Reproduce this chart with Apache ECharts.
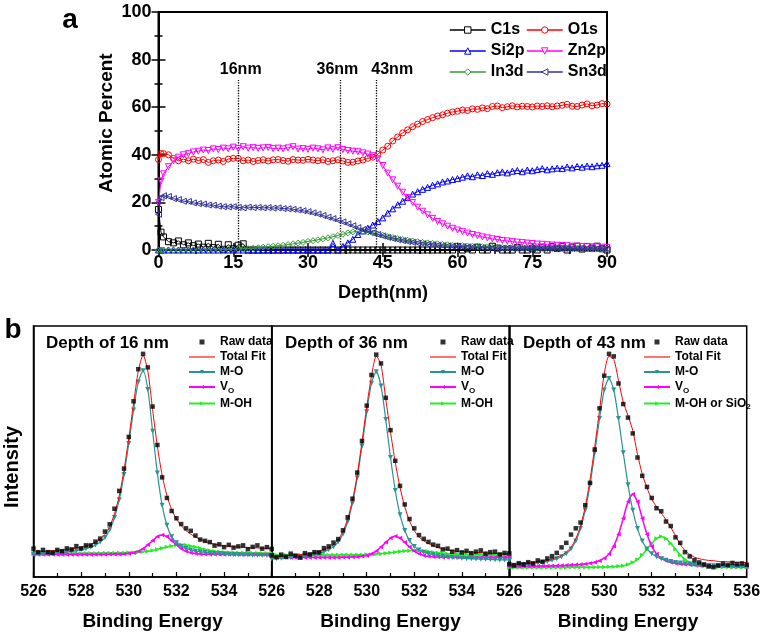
<!DOCTYPE html>
<html><head><meta charset="utf-8">
<script src="https://cdn.jsdelivr.net/npm/echarts@6/dist/echarts.min.js"></script>
<style>html,body{margin:0;padding:0;background:#fff}#c{width:766px;height:637px}</style>
</head><body><div id="c"></div>
<script>
// ---------- Panel a: depth profile ----------
const depth = [0,0.5,1,2,3,4,5,6,7,8,9,10,11,12,13,14,15,16,17,18,19,20,21,22,23,24,25,26,27,28,29,30,31,32,33,34,35,36,37,38,39,40,41,42,43,44,45,46,47,48,49,50,51,52,53,54,55,56,57,58,59,60,61,62,63,64,65,66,67,68,69,70,71,72,73,74,75,76,77,78,79,80,81,82,83,84,85,86,87,88,89,90];
const C1s = [17,7.5, 5.5,3.5,3.0,3.8,2.2,3.0,1.8,2.5,1.2,2.8, 1.0,2.4,0.3,2.2,0.5,2.0,2.6,0,0,0, 0,0,0,0,0,0,0,0,0,0, 0,0,0,0,0,0,0,0,0,0, 0,0,0,0,0,0,0,0,0,0, 0,0,0,0,0,0,0,0,0,1.5, 0,0.5,0,1.2,0,0,1.6,0.8,0,0, 0,1.0,0,0,0.5,0,1.2,0,1.4,0.6, 1.5,0,1.2,1.6,0.4,1.5,0.8,1.6,0.5,0];
const O1s = [38,40.5, 40.5,40,38.5,37.5,38.2,37.5,38.2,37.6,38,36.8, 37.5,37.8,37.2,38.2,38.5,38.5,37.5,37.8,37.2,37.6, 37.9,37.4,37.9,38,37.6,37.3,38,37.8,37.7,38.1, 37.8,37.5,37.9,37.2,37.5,37.9,37.4,36.8,36.9,37.4, 37.8,38.5,39.0,40.2,42,43.6,45.8,47.5,49.2,50.5, 51.8,52.9,54,54.8,55.6,56.3,56.8,57.5,58,58.3, 58.8,58.6,59.3,59.1,59.7,59.4,60.3,60.5,59.8,60.2, 60.6,60.1,60.4,60.3,60.1,60.5,60.3,60.6,60.2,60.5, 60.8,61.2,60.4,60.3,60.9,61.4,60.6,60.9,61.5,61.3];
const Si2p = [0,0, 0,0,0,0,0,0,0,0,0,0, 0,0,0,0,0,0,0,0,0,0, 0,0,0,0,0,0,0,0,0,0, 0,0,0,0,2.8,0,1.5,3,4.5,6.5, 8,9.2,10.5,12,13.5,15.5,17.3,19,20.5,22, 23.5,24.5,25.5,26.3,27.2,27.8,28.6,29,29.6,30, 30.6,31.2,30.8,31.6,31.3,32.1,31.8,32.5,32.8,32.4, 33.1,33.4,32.9,33.6,33.3,33.8,34.2,33.7,34.1,34.4, 34.2,34.9,34.5,35.1,34.8,35.3,35.0,35.4,35.6,36.3];
const Zn2p = [20,29, 32,35,37.5,39,40,40.5,41.2,41.5,42,41.8, 42.5,42.2,42.8,42.5,43.2,42.6,43.4,42.8,43,42.7, 42.9,43.1,42.6,42.8,42.5,42.9,43.4,42.4,42.6,42.3, 42.8,42.5,42.1,42.9,42.3,43.0,42.2,41.8,41.5,41.3, 40.8,40.3,39.6,38.3,35.5,32.3,29.5,26.8,24.3,22, 20,18,16.3,14.8,13.3,12,11,10,9.1,8.4, 7.7,7.1,6.5,6.0,5.5,5.1,4.7,4.4,4.0,3.8, 3.5,3.3,3.1,2.9,2.7,2.5,2.4,2.2,2.1,2.0, 1.9,1.8,1.6,1.6,1.5,1.4,1.3,1.3,1.2,1.1];
const In3d = [0,0, 0,0,0,0,0,0,0,0,0.1,0.1, 0.1,0.1,0.2,0.2,0.3,0.4,0.5,0.6,0.8,1.0, 1.2,1.4,1.6,1.8,2.0,2.3,2.6,2.9,3.2,3.6, 3.9,4.3,4.7,5.1,5.6,6.1,6.6,7.2,7.6,7.9, 7.8,7.5,7.1,6.7,6.2,5.6,5.2,4.8,4.4,4.1, 3.8,3.5,3.2,3.0,2.8,2.6,2.4,2.2,2.0,1.9, 1.8,1.7,1.6,1.5,1.4,1.3,1.2,1.1,1.0,1.0, 0.9,0.9,0.8,0.8,0.7,0.7,0.6,0.6,0.6,0.5, 0.5,0.5,0.5,0.5,0.4,0.4,0.4,0.4,0.4,0.4];
const Sn3d = [15,22, 22.8,22.5,21.6,21.2,20.5,20.4,19.8,19.5,19.3,18.9, 18.8,18.4,18.2,18.1,18.2,17.9,17.7,18.0,17.8,17.9, 17.7,17.8,17.6,17.7,17.4,17.3,17.1,16.8,16.5,16.1, 15.6,15.1,14.5,13.8,13.2,12.5,11.8,11.0,10.2,9.4, 8.6,7.9,7.2,6.5,5.9,5.3,4.8,4.3,3.9,3.5, 3.2,2.9,2.6,2.4,2.2,2.0,1.8,1.7,1.6,1.5, 1.4,1.3,1.2,1.1,1.0,0.9,0.9,0.8,0.8,0.8, 0.7,0.7,0.7,0.7,0.7,0.7,0.7,0.7,0.7,0.7, 0.6,0.6,0.6,0.5,0.5,0.5,0.5,0.5,0.5,0.5];
const guideDepths = [16.1, 36.5, 43.6];
const guideTop = 71.4;
const guideLabels = ['16nm', '36nm', '43nm'];
const guideLabelDepths = [16.5, 35.9, 46.9];
const guideLabelY = 76;
const xTicksA = [0, 90, 15];
const yTicksA = [0, 100, 20];

// ---------- Panel b: O1s spectra ----------
const energy = [526,526.2,526.4,526.6,526.8,527,527.2,527.4,527.6,527.8,528,528.2,528.4,528.6,528.8,529,529.2,529.4,529.6,529.8,530,530.2,530.4,530.6,530.8,531,531.2,531.4,531.6,531.8,532,532.2,532.4,532.6,532.8,533,533.2,533.4,533.6,533.8,534,534.2,534.4,534.6,534.8,535,535.2,535.4,535.6,535.8,536];
// depth 16 nm
const raw16 = [11.3,9.9,10.8,9.9,9.7,10.8,10.3,11.4,11.0,12.3, 11.4,12.6,12.6,14.1,15.3,18.1,21.0,27.2,34.3,43.2, 55.8,70.0,82.8,88.9,83.5,67.9,52.6,39.7,31.5,26.3, 23.4,21.1,19.4,18.4,16.5,14.9,14.4,13.9,12.5,13.0, 11.9,12.8,11.7,12.2,12.6,11.1,12.0,12.6,11.3,11.9,11.2];
const fit16 = [10.1,10.2,10.2,10.4,10.5,10.7,10.8,11.0,11.3,11.5, 11.9,12.4,13.0,13.8,15.1,17.0,20.2,25.2,32.4,42.6, 55.3,69.0,82.0,88.4,82.0,66.7,52.1,40.5,32.5,26.8, 23.1,20.5,18.5,17.1,15.9,15.0,14.2,13.5,13.1,12.7, 12.4,12.2,12.1,11.9,11.8,11.7,11.6,11.6,11.4,11.4,11.4];
const mo16 = [9.1,9.2,9.2,9.4,9.5,9.7,9.8,10.0,10.3,10.5, 10.9,11.3,11.9,12.7,13.9,15.7,18.8,23.7,30.8,40.8, 53.2,66.5,77.7,82.2,74.7,58.1,41.4,28.6,20.6,16.0, 13.6,12.3,11.4,10.8,10.3,10.1,9.8,9.5,9.4,9.3, 9.2,9.05,8.95,8.9,8.8,8.75,8.7,8.65,8.6,8.6,8.6];
const vo16 = [9.0,9.0,9.0,9.0,9.0,9.0,9.0,9.0,9.0,9.0, 9.0,9.0,9.0,9.0,9.0,9.0,9.1,9.1,9.1,9.2, 9.4,9.7,10.3,11.3,12.8,14.5,16.1,16.7,16.1,14.5, 12.8,11.3,10.3,9.7,9.4,9.2,9.1,9.1,9.1,9.0, 9.0,9.0,9.0,9.0,9.0,9.0,9.0,9.0,9.0,9.0,9.0];
const moh16 = [9.4,9.4,9.4,9.4,9.4,9.4,9.4,9.4,9.4,9.4, 9.4,9.5,9.5,9.5,9.5,9.6,9.6,9.6,9.7,9.7, 9.8,9.8,9.9,10.1,10.3,10.6,11.0,11.5,12.0,12.4, 12.7,12.8,12.7,12.4,12.0,11.5,11.0,10.6,10.3,10.1, 9.9,9.8,9.8,9.7,9.7,9.6,9.6,9.6,9.5,9.5,9.5];
// depth 36 nm
const raw36 = [8.6,7.9,8.9,8.1,9.3,8.5,7.7,9.5,9.0,9.9, 9.8,11.5,12.2,13.7,15.1,18.6,23.8,31.2,41.6,54.2, 68.3,80.5,88.6,85.1,71.4,58.5,46.3,36.3,28.9,23.1, 19.4,16.7,15.2,14.0,12.9,12.4,11.0,11.3,10.1,10.7, 9.8,10.4,9.5,10.1,10.6,9.3,9.9,10.1,9.0,9.6,9.4];
const fit36 = [8.1,8.2,8.3,8.5,8.6,8.8,8.9,9.2,9.4,9.8, 10.3,10.9,11.7,12.9,14.9,18.2,23.2,30.6,40.9,53.8, 67.9,80.0,88.0,84.5,70.9,57.8,45.7,35.7,28.0,22.3, 18.5,16.0,14.4,13.3,12.4,11.7,11.3,10.8,10.5,10.2, 10.1,10.0,9.9,9.8,9.7,9.6,9.5,9.4,9.3,9.3,9.3];
const mo36 = [7.3,7.4,7.5,7.7,7.8,8.0,8.1,8.4,8.6,9.0, 9.5,10.1,10.9,12.1,14.0,17.1,22.1,29.4,39.5,52.2, 65.8,77.2,81.8,76.1,62.7,47.6,34.5,24.8,18.5,14.5, 12.2,10.8,9.9,9.3,8.9,8.5,8.3,8.0,7.8,7.7, 7.5,7.4,7.3,7.2,7.1,7.1,7.0,6.9,6.8,6.8,6.8];
const vo36 = [7.8,7.8,7.8,7.8,7.8,7.8,7.8,7.8,7.8,7.8, 7.8,7.8,7.8,7.8,7.8,7.9,7.9,7.95,8.05,8.25, 8.6,9.25,10.35,11.95,13.8,15.5,16.2,15.5,13.8,11.95, 10.35,9.25,8.6,8.25,8.05,7.95,7.9,7.9,7.85,7.85, 7.85,7.85,7.85,7.85,7.85,7.85,7.85,7.85,7.85,7.85,7.85];
const moh36 = [8.8,8.8,8.8,8.8,8.8,8.8,8.8,8.8,8.8,8.8, 8.8,8.8,8.8,8.8,8.8,8.9,8.9,8.9,8.9,8.9, 9.0,9.0,9.2,9.3,9.5,9.7,9.9,10.2,10.4,10.5, 10.6,10.5,10.4,10.2,9.9,9.7,9.5,9.3,9.2,9.1, 9.0,9.0,9.0,9.0,9.0,8.9,8.9,8.9,8.9,8.9,8.9];
// depth 43 nm
const raw43 = [5.1,4.6,5.5,5.0,5.9,5.4,6.6,6.1,7.4,8.3, 9.6,11.8,13.6,16.9,19.4,21.7,28.6,37.5,50.8,67.2, 80.2,88.9,87.9,77.1,68.9,63.5,57.2,47.6,40.3,35.9, 31.5,27.4,26.2,22.1,20.3,15.8,13.6,9.9,8.2,6.7, 5.8,5.0,4.2,3.9,4.6,5.3,4.8,5.6,5.1,5.4,4.9];
const fit43 = [4.9,5.0,5.3,5.4,5.6,5.7,6.0,6.2,6.6,7.2, 7.8,8.6,9.9,11.9,15.2,20.3,28.1,38.7,52.0,66.4, 81.0,88.0,86.7,78.3,69.7,64.3,58.4,48.9,41.0,35.5, 31.0,28.0,25.5,22.8,19.8,16.5,13.0,10.6,9.0,7.9, 7.3,6.9,6.6,6.5,6.2,6.1,6.1,5.9,5.9,5.8,5.8];
const mo43 = [4.6,4.7,4.9,5.0,5.2,5.3,5.6,5.8,6.2,6.7, 7.3,8.1,9.3,11.2,14.3,19.3,26.6,36.8,49.5,63.1, 74.5,79.1,74.5,63.1,49.5,36.8,26.6,19.3,14.3,11.2, 9.3,8.1,7.3,6.7,6.2,5.8,5.6,5.3,5.2,5.0, 4.9,4.7,4.6,4.5,4.4,4.3,4.3,4.2,4.2,4.1,4.1];
const vo43 = [4.2,4.2,4.2,4.25,4.25,4.3,4.3,4.35,4.4,4.45, 4.5,4.55,4.65,4.75,4.9,5.0,5.2,5.5,5.9,6.5, 7.5,9.2,12.3,17.0,23.4,30.0,33.0,30.0,23.4,17.0, 12.3,9.2,7.5,6.5,5.9,5.5,5.2,5.0,4.9,4.75, 4.65,4.55,4.5,4.45,4.4,4.35,4.3,4.3,4.25,4.25,4.2];
const moh43 = [3.8,3.8,3.8,3.8,3.8,3.8,3.8,3.8,3.8,3.8, 3.8,3.8,3.8,3.9,3.9,3.9,3.9,3.9,3.9,4.0, 4.0,4.05,4.1,4.3,4.5,5.0,5.8,7.0,8.8,11.1, 13.4,15.3,16.1,15.3,13.4,11.1,8.8,7.0,5.8,5.0, 4.5,4.3,4.1,4.05,4.0,4.0,3.95,3.9,3.9,3.9,3.9];
const panelTitles = ['Depth of 16 nm', 'Depth of 36 nm', 'Depth of 43 nm'];
const xTicksB = [526, 536, 2];

// ---------- build ----------
const FONT = '"Liberation Sans", Arial, Helvetica, sans-serif';
const pairs = (xs, ys) => xs.map((x, i) => [x, ys[i]]);
const chart = echarts.init(document.getElementById('c'), null, {renderer: 'canvas', width: 766, height: 637});

const topDefs = [
  {name: 'C1s', data: C1s, color: '#000000', symbol: 'rect', rot: 0},
  {name: 'O1s', data: O1s, color: '#ff0000', symbol: 'circle', rot: 0},
  {name: 'Si2p', data: Si2p, color: '#0000ff', symbol: 'triangle', rot: 0},
  {name: 'Zn2p', data: Zn2p, color: '#ff00ff', symbol: 'triangle', rot: 180},
  {name: 'In3d', data: In3d, color: '#339933', symbol: 'diamond', rot: 0},
  {name: 'Sn3d', data: Sn3d, color: '#333399', symbol: 'triangle', rot: 90}
];
const topColor = {};
topDefs.forEach(d => { topColor[d.name] = d.color; });

const series = topDefs.map((d, k) => ({
  type: 'line', name: d.name, xAxisIndex: 0, yAxisIndex: 0,
  data: pairs(depth, d.data),
  symbol: d.symbol, symbolRotate: d.rot, symbolSize: 6, showAllSymbol: true,
  lineStyle: {color: d.color, width: 1},
  itemStyle: {color: 'rgba(255,255,255,0)', borderColor: d.color, borderWidth: 1},
  z: 2 + k,
  markLine: k === 0 ? {
    silent: true, symbol: ['none', 'none'], label: {show: false},
    lineStyle: {type: 'dotted', color: '#000', width: 1.3, opacity: 1},
    emphasis: {disabled: true},
    data: guideDepths.map(g => [{coord: [g, 0]}, {coord: [g, guideTop]}])
  } : undefined
}));

const grids = [
  {left: 158.5, top: 12, width: 448.5, height: 238},
  {left: 33.5, top: 326, width: 238.2, height: 251},
  {left: 271.7, top: 326, width: 237.6, height: 251},
  {left: 509.3, top: 326, width: 237.4, height: 251}
];

const tickStyle = {width: 1.5, color: '#000'};
const xAxes = [
  {gridIndex: 0, type: 'value', min: xTicksA[0], max: xTicksA[1], interval: xTicksA[2], position: 'bottom',
    axisLine: {lineStyle: {color: '#000', width: 2}}, axisTick: {inside: true, length: 7, lineStyle: tickStyle},
    minorTick: {show: true, splitNumber: 2, length: 4, lineStyle: tickStyle},
    splitLine: {show: false},
    axisLabel: {fontFamily: FONT, fontWeight: 'bold', fontSize: 18, color: '#000', margin: 4}},
  {gridIndex: 0, type: 'value', min: xTicksA[0], max: xTicksA[1], interval: xTicksA[2], position: 'top',
    axisLine: {lineStyle: {color: '#000', width: 2}}, axisTick: {inside: true, length: 7, lineStyle: tickStyle},
    minorTick: {show: true, splitNumber: 2, length: 4, lineStyle: tickStyle},
    splitLine: {show: false}, axisLabel: {show: false}}
];
const yAxes = [
  {gridIndex: 0, type: 'value', min: yTicksA[0], max: yTicksA[1], interval: yTicksA[2], position: 'left',
    axisLine: {show: true, lineStyle: {color: '#000', width: 2}}, axisTick: {show: true, inside: true, length: 7, lineStyle: tickStyle},
    minorTick: {show: true, splitNumber: 2, length: 4, lineStyle: tickStyle},
    splitLine: {show: false},
    axisLabel: {fontFamily: FONT, fontWeight: 'bold', fontSize: 18, color: '#000', margin: 7}},
  {gridIndex: 0, type: 'value', min: yTicksA[0], max: yTicksA[1], interval: yTicksA[2], position: 'right',
    axisLine: {show: true, lineStyle: {color: '#000', width: 2}}, axisTick: {show: true, inside: true, length: 7, lineStyle: tickStyle},
    minorTick: {show: true, splitNumber: 2, length: 4, lineStyle: tickStyle},
    splitLine: {show: false}, axisLabel: {show: false}}
];

const panels = [
  {raw: raw16, fit: fit16, mo: mo16, vo: vo16, moh: moh16, mohName: 'M-OH'},
  {raw: raw36, fit: fit36, mo: mo36, vo: vo36, moh: moh36, mohName: 'M-OH'},
  {raw: raw43, fit: fit43, mo: mo43, vo: vo43, moh: moh43, mohName: 'M-OH or SiO2'}
];
const topLegendItem = n => ({name: n, itemStyle: {color: '#fff', borderColor: topColor[n], borderWidth: 1}});
const legends = [
  {left: 444, top: 17, orient: 'vertical', itemWidth: 36, itemHeight: 8, itemGap: 5, selectedMode: false,
    data: ['C1s', 'Si2p', 'In3d'].map(topLegendItem), lineStyle: {width: 1.5},
    textStyle: {fontFamily: FONT, fontWeight: 'bold', fontSize: 16, color: '#000'}},
  {left: 521, top: 17, orient: 'vertical', itemWidth: 36, itemHeight: 8, itemGap: 5, selectedMode: false,
    data: ['O1s', 'Zn2p', 'Sn3d'].map(topLegendItem), lineStyle: {width: 1.5},
    textStyle: {fontFamily: FONT, fontWeight: 'bold', fontSize: 16, color: '#000'}}
];
const legendLefts = [183, 424, 638];

panels.forEach((p, i) => {
  const gi = i + 1, ai = i + 2;
  xAxes.push({gridIndex: gi, type: 'value', min: xTicksB[0], max: xTicksB[1], interval: xTicksB[2],
    axisLine: {lineStyle: {color: '#000', width: 1.5}}, axisTick: {inside: true, length: 5, lineStyle: {width: 1.2, color: '#000'}},
    minorTick: {show: true, splitNumber: 2, length: 4, lineStyle: {width: 1.2, color: '#000'}},
    splitLine: {show: false},
    axisLabel: {fontFamily: FONT, fontWeight: 'bold', fontSize: 16, color: '#000', margin: 7, showMaxLabel: i === 2}});
  yAxes.push({gridIndex: gi, type: 'value', min: 0, max: 100,
    axisLine: {show: true, lineStyle: {color: '#000', width: 1.5}}, axisTick: {show: false}, axisLabel: {show: false}, splitLine: {show: false}});
  const common = {xAxisIndex: ai, yAxisIndex: ai, smooth: 0.25, showAllSymbol: true};
  series.push(
    Object.assign({type: 'line', name: p.mohName, data: pairs(energy, p.moh), symbol: 'triangle', symbolRotate: -90, symbolSize: 4.5,
      lineStyle: {color: '#22ee22', width: 1.5}, itemStyle: {color: '#22ee22'}, z: 2}, common),
    Object.assign({type: 'line', name: 'VO', data: pairs(energy, p.vo), symbol: 'triangle', symbolRotate: 90, symbolSize: 4.5,
      lineStyle: {color: '#ff00ff', width: 1.5}, itemStyle: {color: '#ff00ff'}, z: 3}, common),
    Object.assign({type: 'line', name: 'M-O', data: pairs(energy, p.mo), symbol: 'triangle', symbolRotate: 180, symbolSize: 5,
      lineStyle: {color: '#2a9494', width: 1.2}, itemStyle: {color: '#2a9494'}, z: 4}, common),
    Object.assign({type: 'line', name: 'Total Fit', data: pairs(energy, p.fit), symbol: 'none',
      lineStyle: {color: '#ff0000', width: 1}, itemStyle: {color: '#ff0000'}, z: 5}, common),
    {type: 'scatter', name: 'Raw data', xAxisIndex: ai, yAxisIndex: ai, data: pairs(energy, p.raw), symbol: 'rect', symbolSize: 4.5,
      itemStyle: {color: '#000'}, z: 6}
  );
  legends.push({left: legendLefts[i], top: 331, orient: 'vertical', itemWidth: 26, itemHeight: 5, itemGap: 3, selectedMode: false,
    data: [{name: 'Raw data', icon: 'path://M0,0H4V4H0Z'}, {name: 'Total Fit', icon: 'path://M0,0H26V1.1H0Z'}, 'M-O', 'VO', p.mohName],
    formatter: n => n === 'VO' ? 'V{s|O}' : (n === 'M-OH or SiO2' ? 'M-OH or SiO{s|2}' : n),
    textStyle: {fontFamily: FONT, fontWeight: 'bold', fontSize: 12, color: '#000',
      rich: {s: {fontFamily: FONT, fontWeight: 'bold', fontSize: 8, color: '#000', padding: [7, 0, 0, 0]}}}});
});

const txt = (x, y, text, size, extra) => Object.assign({type: 'text', x: x, y: y, silent: true,
  style: {text: text, fill: '#000', font: 'bold ' + size + 'px ' + FONT, align: 'center', verticalAlign: 'middle'}}, extra || {});

const graphic = [
  txt(70, 20, 'a', 28),
  txt(13, 330, 'b', 28),
  txt(107, 123, 'Atomic Percent', 19, {rotation: Math.PI / 2}),
  txt(383, 293, 'Depth(nm)', 18),
  txt(12, 467, 'Intensity', 20, {rotation: Math.PI / 2}),
  txt(152.6, 622, 'Binding Energy', 19),
  txt(390.5, 622, 'Binding Energy', 19),
  txt(628, 622, 'Binding Energy', 19)
];
const titleLefts = [46, 285, 523];
panelTitles.forEach((t, i) => graphic.push({type: 'text', x: titleLefts[i], y: 343, silent: true,
  style: {text: t, fill: '#000', font: 'bold 17px ' + FONT, align: 'left', verticalAlign: 'middle'}}));

chart.setOption({
  animation: false,
  backgroundColor: '#fff',
  grid: grids.map((g, i) => Object.assign({show: true, borderColor: '#000', borderWidth: i === 0 ? 2 : 1.5, backgroundColor: 'transparent'}, g)),
  xAxis: xAxes, yAxis: yAxes, legend: legends, series: series, graphic: graphic
});

// guide labels placed through the chart's own scales
guideLabels.forEach((t, i) => {
  const pt = chart.convertToPixel({xAxisIndex: 0, yAxisIndex: 0}, [guideLabelDepths[i], guideLabelY]);
  graphic.push(txt(pt[0], pt[1], t, 16));
});
chart.setOption({graphic: graphic});
</script></body></html>
